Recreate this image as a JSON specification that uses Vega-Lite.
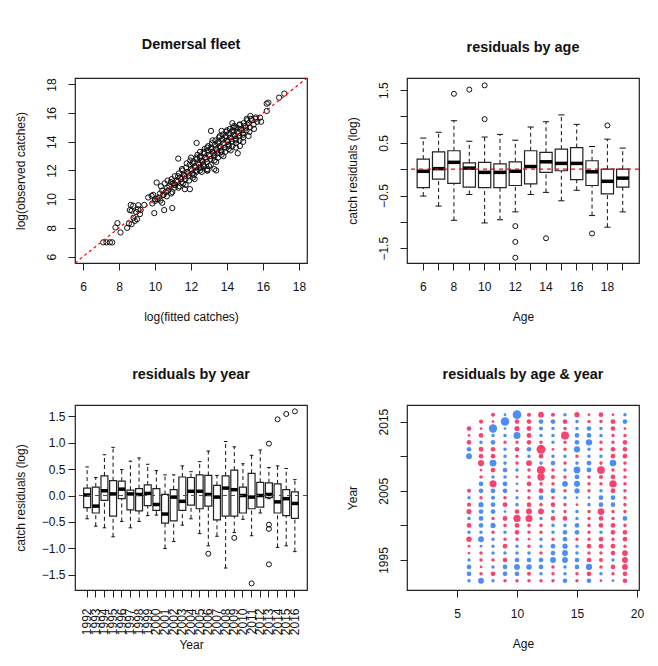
{
"$schema": "https://vega.github.io/schema/vega-lite/v6.json",
"background": "white",
"padding": {"left": 13, "top": 36, "right": 5, "bottom": 5},
"config": {
  "font": "Liberation Sans",
  "view": {"stroke": "#222", "strokeWidth": 1.2},
  "axis": {"domain": false, "grid": false, "ticks": true, "tickColor": "#222", "tickSize": 7, "tickWidth": 1, "labelFont": "Liberation Sans", "labelFontSize": 12, "labelColor": "#111", "titleFont": "Liberation Sans", "titleFontSize": 12, "titleFontWeight": "normal", "titleColor": "#111", "labelOverlap": false, "labelFlush": false},
  "axisLeft": {"minExtent": 40, "maxExtent": 40, "titlePadding": 8},
  "axisBottom": {"minExtent": 36, "maxExtent": 36, "titlePadding": 12, "labelPadding": 11},
  "title": {"font": "Liberation Sans", "fontSize": 14.4, "fontWeight": "bold", "color": "#111", "anchor": "middle", "offset": 23}
},
"columns": 2,
"spacing": {"row": 43, "column": 35},
"datasets": {
  "diag": [{"v": 5.55}, {"v": 18.45}],
  "zero": [{"z": 0}],
  "scatter": [
    {"f":7.12,"o":6.99},{"f":7.3,"o":6.99},{"f":7.49,"o":6.99},{"f":7.62,"o":6.99},{"f":7.8,"o":8.03},{"f":7.91,"o":8.33},{"f":8.08,"o":7.68},{"f":8.45,"o":8.0},{"f":8.55,"o":8.3},{"f":8.6,"o":9.24},{"f":8.65,"o":9.6},{"f":8.7,"o":9.2},{"f":8.79,"o":9.54},{"f":8.7,"o":8.26},{"f":8.88,"o":8.49},{"f":8.8,"o":8.7},{"f":9.0,"o":8.6},{"f":9.07,"o":9.58},{"f":9.16,"o":8.96},{"f":9.05,"o":9.3},{"f":9.2,"o":9.25},{"f":8.95,"o":9.1},{"f":9.4,"o":9.6},{"f":9.62,"o":10.12},{"f":9.81,"o":10.23},{"f":10.0,"o":9.88},{"f":9.96,"o":9.03},{"f":10.51,"o":9.24},{"f":10.96,"o":9.38},{"f":10.09,"o":11.16},{"f":10.0,"o":10.0},{"f":9.9,"o":10.3},{"f":9.85,"o":9.7},{"f":10.3,"o":9.9},{"f":10.4,"o":9.75},{"f":10.45,"o":10.3},{"f":11.29,"o":12.83},{"f":12.31,"o":13.92},{"f":13.11,"o":14.76},{"f":13.7,"o":14.76},{"f":11.66,"o":10.7},{"f":11.94,"o":10.7},{"f":14.72,"o":13.71},{"f":16.21,"o":16.66},{"f":16.3,"o":16.73},{"f":16.21,"o":16.15},{"f":16.9,"o":17.08},{"f":17.19,"o":17.36},{"f":15.84,"o":15.69},{"f":15.6,"o":15.6},{"f":15.9,"o":15.4},{"f":15.5,"o":14.9},{"f":15.3,"o":15.8},{"f":14.3,"o":15.3},{"f":13.4,"o":12.0},{"f":12.9,"o":12.0},{"f":13.3,"o":12.1},
    {"f":11.5,"o":12.1},{"f":11.7,"o":11.0},{"f":12.0,"o":12.9},{"f":12.2,"o":11.4},{"f":12.5,"o":13.3},{"f":12.6,"o":11.9},{"f":12.9,"o":13.6},{"f":13.0,"o":12.3},{"f":13.2,"o":14.1},{"f":13.4,"o":12.6},{"f":13.6,"o":14.4},{"f":13.8,"o":13.0},{"f":14.0,"o":14.8},{"f":14.2,"o":13.4},{"f":14.4,"o":15.1},{"f":14.5,"o":13.6},{"f":14.7,"o":15.2},{"f":14.9,"o":14.0},{"f":15.1,"o":15.6},{"f":15.2,"o":14.4},{"f":13.1,"o":13.5},{"f":13.3,"o":13.1},{"f":13.5,"o":13.9},{"f":13.7,"o":13.3},{"f":13.9,"o":14.3},{"f":14.1,"o":13.7},{"f":14.3,"o":14.7},{"f":14.5,"o":14.1},{"f":14.7,"o":14.9},{"f":14.9,"o":14.5},{"f":12.1,"o":12.5},{"f":12.3,"o":11.9},{"f":12.5,"o":12.9},{"f":12.7,"o":12.3},{"f":11.1,"o":11.6},{"f":11.3,"o":10.8},{"f":10.7,"o":11.3},{"f":10.9,"o":10.4},
    {"f":10.2,"o":10.1},{"f":10.28,"o":10.4},{"f":10.13,"o":10.0},
    {"f":10.4,"o":10.6},{"f":10.48,"o":10.3},{"f":10.33,"o":10.9},
    {"f":10.6,"o":10.5},{"f":10.68,"o":10.8},{"f":10.53,"o":11.1},{"f":10.65,"o":10.2},
    {"f":10.8,"o":10.9},{"f":10.88,"o":11.2},{"f":10.73,"o":10.6},
    {"f":11.0,"o":11.1},{"f":11.08,"o":10.8},{"f":10.93,"o":11.4},{"f":11.05,"o":11.0},{"f":10.96,"o":10.5},
    {"f":11.2,"o":11.3},{"f":11.28,"o":11.6},{"f":11.13,"o":11.0},{"f":11.25,"o":11.2},
    {"f":11.4,"o":11.5},{"f":11.48,"o":11.2},{"f":11.33,"o":11.8},{"f":11.45,"o":11.4},{"f":11.36,"o":10.9},
    {"f":11.6,"o":11.7},{"f":11.68,"o":11.4},{"f":11.53,"o":12.0},{"f":11.65,"o":11.6},{"f":11.56,"o":11.1},
    {"f":11.8,"o":11.9},{"f":11.88,"o":11.6},{"f":11.73,"o":12.2},{"f":11.85,"o":11.8},{"f":11.76,"o":12.5},{"f":11.9,"o":11.3},
    {"f":12.0,"o":12.1},{"f":12.08,"o":11.8},{"f":11.93,"o":12.4},{"f":12.05,"o":12.0},{"f":11.96,"o":12.7},{"f":12.1,"o":11.5},
    {"f":12.2,"o":12.3},{"f":12.28,"o":12.0},{"f":12.13,"o":12.6},{"f":12.25,"o":12.2},{"f":12.16,"o":11.7},{"f":12.3,"o":12.9},
    {"f":12.4,"o":12.5},{"f":12.48,"o":12.2},{"f":12.33,"o":12.8},{"f":12.45,"o":12.4},{"f":12.36,"o":13.1},{"f":12.5,"o":12.0},
    {"f":12.6,"o":12.7},{"f":12.68,"o":12.4},{"f":12.53,"o":13.0},{"f":12.65,"o":12.6},{"f":12.56,"o":12.2},{"f":12.7,"o":13.3},
    {"f":12.8,"o":12.9},{"f":12.88,"o":12.6},{"f":12.73,"o":13.2},{"f":12.85,"o":12.8},{"f":12.76,"o":13.5},{"f":12.9,"o":12.1},
    {"f":13.0,"o":13.1},{"f":13.08,"o":12.8},{"f":12.93,"o":13.4},{"f":13.05,"o":13.0},{"f":12.96,"o":13.7},{"f":13.1,"o":12.4},{"f":12.91,"o":12.0},
    {"f":13.2,"o":13.3},{"f":13.28,"o":13.0},{"f":13.13,"o":13.6},{"f":13.25,"o":13.2},{"f":13.16,"o":13.9},{"f":13.3,"o":12.7},
    {"f":13.4,"o":13.5},{"f":13.48,"o":13.2},{"f":13.33,"o":13.8},{"f":13.45,"o":13.4},{"f":13.36,"o":14.1},{"f":13.5,"o":12.9},
    {"f":13.6,"o":13.7},{"f":13.68,"o":13.4},{"f":13.53,"o":14.0},{"f":13.65,"o":13.6},{"f":13.56,"o":14.3},{"f":13.7,"o":13.1},
    {"f":13.8,"o":13.9},{"f":13.88,"o":13.6},{"f":13.73,"o":14.2},{"f":13.85,"o":13.8},{"f":13.76,"o":14.5},{"f":13.9,"o":13.3},
    {"f":14.0,"o":14.1},{"f":14.08,"o":13.8},{"f":13.93,"o":14.4},{"f":14.05,"o":14.0},{"f":13.96,"o":14.7},{"f":14.1,"o":13.5},
    {"f":14.2,"o":14.3},{"f":14.28,"o":14.0},{"f":14.13,"o":14.6},{"f":14.25,"o":14.2},{"f":14.16,"o":14.9},{"f":14.3,"o":13.7},
    {"f":14.4,"o":14.5},{"f":14.48,"o":14.2},{"f":14.33,"o":14.8},{"f":14.45,"o":14.4},{"f":14.36,"o":15.0},{"f":14.5,"o":13.9},{"f":14.6,"o":13.2},
    {"f":14.6,"o":14.7},{"f":14.68,"o":14.4},{"f":14.53,"o":15.0},{"f":14.65,"o":14.6},{"f":14.7,"o":14.1},
    {"f":14.8,"o":14.9},{"f":14.88,"o":14.6},{"f":14.73,"o":15.2},{"f":14.85,"o":14.8},{"f":14.9,"o":14.3},
    {"f":15.0,"o":15.1},{"f":15.08,"o":14.8},{"f":14.93,"o":15.3},{"f":15.05,"o":15.0},
    {"f":15.2,"o":15.3},{"f":15.28,"o":15.0},{"f":15.13,"o":15.5},{"f":15.25,"o":14.7},
    {"f":15.4,"o":15.5},{"f":15.48,"o":15.2},{"f":15.33,"o":15.6},
    {"f":15.6,"o":15.7},{"f":15.68,"o":15.4}
  ],
  "agebox": [
    {"age":6,"lo":-0.51,"q1":-0.35,"med":-0.04,"q3":0.19,"hi":0.59},
    {"age":7,"lo":-0.70,"q1":-0.19,"med":0.01,"q3":0.33,"hi":0.70},
    {"age":8,"lo":-0.97,"q1":-0.27,"med":0.13,"q3":0.35,"hi":0.92},
    {"age":9,"lo":-0.48,"q1":-0.34,"med":0.02,"q3":0.12,"hi":0.53},
    {"age":10,"lo":-1.02,"q1":-0.35,"med":-0.06,"q3":0.13,"hi":0.61},
    {"age":11,"lo":-0.96,"q1":-0.35,"med":-0.06,"q3":0.10,"hi":0.66},
    {"age":12,"lo":-0.81,"q1":-0.31,"med":-0.04,"q3":0.14,"hi":0.55},
    {"age":13,"lo":-0.48,"q1":-0.28,"med":0.05,"q3":0.35,"hi":0.80},
    {"age":14,"lo":-0.44,"q1":-0.06,"med":0.14,"q3":0.32,"hi":0.90},
    {"age":15,"lo":-0.60,"q1":-0.03,"med":0.11,"q3":0.38,"hi":1.03},
    {"age":16,"lo":-0.40,"q1":-0.20,"med":0.11,"q3":0.41,"hi":0.85},
    {"age":17,"lo":-0.88,"q1":-0.31,"med":-0.05,"q3":0.16,"hi":0.43},
    {"age":18,"lo":-1.10,"q1":-0.47,"med":-0.23,"q3":0.0,"hi":0.57},
    {"age":19,"lo":-0.81,"q1":-0.34,"med":-0.17,"q3":0.0,"hi":0.40}
  ],
  "ageout": [
    {"age":8,"v":1.43},{"age":9,"v":1.51},{"age":10,"v":1.59},{"age":10,"v":0.95},
    {"age":12,"v":-1.08},{"age":12,"v":-1.38},{"age":12,"v":-1.68},{"age":14,"v":-1.31},
    {"age":17,"v":-1.22},{"age":18,"v":0.83}
  ],
  "yearbox": [
    {"year":1992,"lo":-0.44,"q1":-0.23,"med":0.01,"q3":0.14,"hi":0.54},
    {"year":1993,"lo":-0.58,"q1":-0.33,"med":-0.20,"q3":0.16,"hi":0.34},
    {"year":1994,"lo":-0.61,"q1":-0.09,"med":0.09,"q3":0.37,"hi":0.77},
    {"year":1995,"lo":-0.78,"q1":-0.39,"med":0.03,"q3":0.28,"hi":0.91},
    {"year":1996,"lo":-0.49,"q1":-0.06,"med":0.12,"q3":0.27,"hi":0.49},
    {"year":1997,"lo":-0.61,"q1":-0.27,"med":0.03,"q3":0.10,"hi":0.65},
    {"year":1998,"lo":-0.49,"q1":-0.29,"med":0.02,"q3":0.13,"hi":0.71},
    {"year":1999,"lo":-0.38,"q1":-0.19,"med":0.04,"q3":0.20,"hi":0.59},
    {"year":2000,"lo":-0.37,"q1":-0.28,"med":-0.17,"q3":0.13,"hi":0.47},
    {"year":2001,"lo":-1.00,"q1":-0.52,"med":-0.35,"q3":0.02,"hi":0.39},
    {"year":2002,"lo":-0.87,"q1":-0.48,"med":-0.03,"q3":0.11,"hi":0.39},
    {"year":2003,"lo":-0.56,"q1":-0.28,"med":-0.11,"q3":0.35,"hi":0.56},
    {"year":2004,"lo":-0.44,"q1":-0.18,"med":0.08,"q3":0.34,"hi":0.45},
    {"year":2005,"lo":-0.72,"q1":-0.25,"med":0.08,"q3":0.39,"hi":0.64},
    {"year":2006,"lo":-0.95,"q1":-0.20,"med":0.02,"q3":0.38,"hi":0.84},
    {"year":2007,"lo":-0.77,"q1":-0.46,"med":-0.03,"q3":0.19,"hi":0.38},
    {"year":2008,"lo":-1.37,"q1":-0.39,"med":0.14,"q3":0.37,"hi":1.02},
    {"year":2009,"lo":-0.70,"q1":-0.39,"med":0.11,"q3":0.48,"hi":0.92},
    {"year":2010,"lo":-0.45,"q1":-0.33,"med":0.0,"q3":0.16,"hi":0.60},
    {"year":2011,"lo":-0.76,"q1":-0.25,"med":-0.03,"q3":0.42,"hi":0.76},
    {"year":2012,"lo":-0.33,"q1":-0.22,"med":0.0,"q3":0.25,"hi":0.86},
    {"year":2013,"lo":-0.06,"q1":-0.04,"med":0.02,"q3":0.24,"hi":0.53},
    {"year":2014,"lo":-0.98,"q1":-0.33,"med":-0.12,"q3":0.22,"hi":0.56},
    {"year":2015,"lo":-0.95,"q1":-0.38,"med":-0.06,"q3":0.11,"hi":0.51},
    {"year":2016,"lo":-1.06,"q1":-0.43,"med":-0.15,"q3":0.07,"hi":0.30}
  ],
  "yearout": [
    {"year":2006,"v":-1.10},{"year":2009,"v":-0.80},{"year":2011,"v":-1.66},
    {"year":2013,"v":0.98},{"year":2013,"v":-0.55},{"year":2013,"v":-0.63},{"year":2013,"v":-1.30},
    {"year":2014,"v":1.44},{"year":2015,"v":1.54},{"year":2016,"v":1.59}
  ],
  "bubbles": [
    {"a":6,"y":1992,"r":0.12},{"a":6,"y":1993,"r":0.3},{"a":6,"y":1994,"r":0.3},{"a":6,"y":1995,"r":0.12},{"a":6,"y":1996,"r":-0.03},{"a":6,"y":1997,"r":-0.03},{"a":6,"y":1998,"r":-0.51},{"a":6,"y":1999,"r":0.12},{"a":6,"y":2000,"r":-0.3},{"a":6,"y":2001,"r":0.12},{"a":6,"y":2002,"r":-0.42},{"a":6,"y":2003,"r":-0.2},{"a":6,"y":2004,"r":0.12},{"a":6,"y":2005,"r":-0.2},{"a":6,"y":2010,"r":0.59},{"a":6,"y":2011,"r":0.3},{"a":6,"y":2012,"r":-0.3},{"a":6,"y":2013,"r":-0.03},{"a":6,"y":2014,"r":-0.3},
    {"a":7,"y":1992,"r":0.6},{"a":7,"y":1993,"r":-0.12},{"a":7,"y":1994,"r":-0.03},{"a":7,"y":1995,"r":-0.12},{"a":7,"y":1996,"r":-0.12},{"a":7,"y":1997,"r":0.03},{"a":7,"y":1998,"r":0.6},{"a":7,"y":1999,"r":0.12},{"a":7,"y":2000,"r":0.3},{"a":7,"y":2001,"r":0.3},{"a":7,"y":2002,"r":0.3},{"a":7,"y":2003,"r":0.42},{"a":7,"y":2004,"r":-0.12},{"a":7,"y":2005,"r":0.3},{"a":7,"y":2006,"r":0.3},{"a":7,"y":2007,"r":-0.12},{"a":7,"y":2008,"r":-0.03},{"a":7,"y":2009,"r":-0.7},{"a":7,"y":2010,"r":-0.3},{"a":7,"y":2011,"r":-0.35},{"a":7,"y":2012,"r":0.12},{"a":7,"y":2013,"r":-0.3},{"a":7,"y":2014,"r":-0.03},{"a":7,"y":2015,"r":-0.2},
    {"a":8,"y":1992,"r":0.12},{"a":8,"y":1993,"r":-0.3},{"a":8,"y":1994,"r":0.12},{"a":8,"y":1995,"r":-0.12},{"a":8,"y":1996,"r":0.12},{"a":8,"y":1997,"r":0.12},{"a":8,"y":1998,"r":0.12},{"a":8,"y":1999,"r":-0.12},{"a":8,"y":2000,"r":0.42},{"a":8,"y":2001,"r":-0.12},{"a":8,"y":2002,"r":0.3},{"a":8,"y":2003,"r":0.3},{"a":8,"y":2004,"r":0.2},{"a":8,"y":2005,"r":0.3},{"a":8,"y":2006,"r":-0.97},{"a":8,"y":2007,"r":0.12},{"a":8,"y":2008,"r":-0.3},{"a":8,"y":2009,"r":0.92},{"a":8,"y":2010,"r":-0.3},{"a":8,"y":2011,"r":-0.3},{"a":8,"y":2012,"r":0.3},{"a":8,"y":2013,"r":0.12},{"a":8,"y":2014,"r":1.43},{"a":8,"y":2015,"r":-0.03},{"a":8,"y":2016,"r":-0.2},
    {"a":9,"y":1992,"r":-0.12},{"a":9,"y":1993,"r":0.3},{"a":9,"y":1994,"r":0.3},{"a":9,"y":1995,"r":-0.3},{"a":9,"y":1996,"r":0.12},{"a":9,"y":1997,"r":-0.3},{"a":9,"y":1998,"r":-0.12},{"a":9,"y":1999,"r":0.12},{"a":9,"y":2000,"r":-0.12},{"a":9,"y":2001,"r":-0.35},{"a":9,"y":2002,"r":0.03},{"a":9,"y":2003,"r":-0.35},{"a":9,"y":2004,"r":-0.12},{"a":9,"y":2005,"r":0.3},{"a":9,"y":2006,"r":0.35},{"a":9,"y":2007,"r":0.12},{"a":9,"y":2008,"r":0.3},{"a":9,"y":2009,"r":0.12},{"a":9,"y":2010,"r":0.12},{"a":9,"y":2011,"r":0.12},{"a":9,"y":2012,"r":-0.12},{"a":9,"y":2013,"r":0.12},{"a":9,"y":2014,"r":0.03},{"a":9,"y":2015,"r":1.51},{"a":9,"y":2016,"r":0.03},
    {"a":10,"y":1992,"r":-0.12},{"a":10,"y":1993,"r":0.3},{"a":10,"y":1994,"r":0.6},{"a":10,"y":1995,"r":0.3},{"a":10,"y":1996,"r":0.12},{"a":10,"y":1997,"r":0.12},{"a":10,"y":1998,"r":-0.12},{"a":10,"y":1999,"r":-0.3},{"a":10,"y":2000,"r":-0.35},{"a":10,"y":2001,"r":-1.02},{"a":10,"y":2002,"r":-0.3},{"a":10,"y":2003,"r":0.12},{"a":10,"y":2004,"r":0.12},{"a":10,"y":2005,"r":-0.03},{"a":10,"y":2006,"r":0.03},{"a":10,"y":2007,"r":-0.03},{"a":10,"y":2008,"r":0.12},{"a":10,"y":2009,"r":-0.12},{"a":10,"y":2010,"r":-0.12},{"a":10,"y":2011,"r":-0.3},{"a":10,"y":2012,"r":-0.12},{"a":10,"y":2013,"r":0.95},{"a":10,"y":2014,"r":-0.42},{"a":10,"y":2015,"r":-0.3},{"a":10,"y":2016,"r":1.59},
    {"a":11,"y":1992,"r":-0.12},{"a":11,"y":1993,"r":-0.2},{"a":11,"y":1994,"r":0.5},{"a":11,"y":1995,"r":0.3},{"a":11,"y":1996,"r":0.12},{"a":11,"y":1997,"r":-0.12},{"a":11,"y":1998,"r":-0.03},{"a":11,"y":1999,"r":-0.12},{"a":11,"y":2000,"r":-0.12},{"a":11,"y":2001,"r":-0.96},{"a":11,"y":2002,"r":-0.6},{"a":11,"y":2003,"r":-0.3},{"a":11,"y":2004,"r":-0.12},{"a":11,"y":2005,"r":-0.12},{"a":11,"y":2006,"r":-0.3},{"a":11,"y":2007,"r":-0.12},{"a":11,"y":2008,"r":-0.12},{"a":11,"y":2009,"r":-0.6},{"a":11,"y":2010,"r":0.12},{"a":11,"y":2011,"r":0.3},{"a":11,"y":2012,"r":-0.3},{"a":11,"y":2013,"r":-0.35},{"a":11,"y":2014,"r":-0.35},{"a":11,"y":2015,"r":-0.3},{"a":11,"y":2016,"r":-0.2},
    {"a":12,"y":1992,"r":-0.12},{"a":12,"y":1993,"r":0.12},{"a":12,"y":1994,"r":0.3},{"a":12,"y":1995,"r":0.3},{"a":12,"y":1996,"r":-0.12},{"a":12,"y":1997,"r":0.12},{"a":12,"y":1998,"r":0.12},{"a":12,"y":1999,"r":-0.12},{"a":12,"y":2000,"r":-0.12},{"a":12,"y":2001,"r":0.12},{"a":12,"y":2002,"r":-0.6},{"a":12,"y":2003,"r":-0.12},{"a":12,"y":2004,"r":0.3},{"a":12,"y":2005,"r":-0.35},{"a":12,"y":2006,"r":-0.12},{"a":12,"y":2007,"r":-1.08},{"a":12,"y":2008,"r":-1.38},{"a":12,"y":2009,"r":0.12},{"a":12,"y":2010,"r":-0.3},{"a":12,"y":2011,"r":-1.68},{"a":12,"y":2012,"r":-0.12},{"a":12,"y":2013,"r":0.12},{"a":12,"y":2014,"r":0.2},{"a":12,"y":2015,"r":0.3},{"a":12,"y":2016,"r":-0.55},
    {"a":13,"y":1992,"r":-0.12},{"a":13,"y":1993,"r":-0.12},{"a":13,"y":1994,"r":-0.12},{"a":13,"y":1995,"r":0.6},{"a":13,"y":1996,"r":0.3},{"a":13,"y":1997,"r":0.3},{"a":13,"y":1998,"r":-0.12},{"a":13,"y":1999,"r":0.12},{"a":13,"y":2000,"r":0.12},{"a":13,"y":2001,"r":-0.3},{"a":13,"y":2002,"r":0.12},{"a":13,"y":2003,"r":-0.3},{"a":13,"y":2004,"r":-0.12},{"a":13,"y":2005,"r":0.35},{"a":13,"y":2006,"r":-0.12},{"a":13,"y":2007,"r":-0.2},{"a":13,"y":2008,"r":-0.12},{"a":13,"y":2009,"r":0.3},{"a":13,"y":2010,"r":0.12},{"a":13,"y":2011,"r":-0.03},{"a":13,"y":2012,"r":0.12},{"a":13,"y":2013,"r":0.12},{"a":13,"y":2014,"r":0.12},{"a":13,"y":2015,"r":0.3},{"a":13,"y":2016,"r":-0.2},
    {"a":14,"y":1992,"r":0.3},{"a":14,"y":1993,"r":0.12},{"a":14,"y":1994,"r":0.12},{"a":14,"y":1995,"r":0.6},{"a":14,"y":1996,"r":0.6},{"a":14,"y":1997,"r":0.45},{"a":14,"y":1998,"r":0.3},{"a":14,"y":1999,"r":0.3},{"a":14,"y":2000,"r":0.12},{"a":14,"y":2001,"r":-0.3},{"a":14,"y":2002,"r":-0.12},{"a":14,"y":2003,"r":-0.12},{"a":14,"y":2004,"r":0.12},{"a":14,"y":2005,"r":-0.12},{"a":14,"y":2006,"r":0.6},{"a":14,"y":2007,"r":-0.12},{"a":14,"y":2008,"r":0.12},{"a":14,"y":2009,"r":-0.12},{"a":14,"y":2010,"r":0.12},{"a":14,"y":2011,"r":-0.12},{"a":14,"y":2012,"r":-0.12},{"a":14,"y":2013,"r":-1.31},{"a":14,"y":2014,"r":-0.12},{"a":14,"y":2015,"r":-0.3},{"a":14,"y":2016,"r":0.12},
    {"a":15,"y":1992,"r":-0.12},{"a":15,"y":1993,"r":-0.12},{"a":15,"y":1994,"r":0.3},{"a":15,"y":1995,"r":0.3},{"a":15,"y":1996,"r":0.12},{"a":15,"y":1997,"r":0.12},{"a":15,"y":1998,"r":-0.12},{"a":15,"y":1999,"r":0.3},{"a":15,"y":2000,"r":0.3},{"a":15,"y":2001,"r":0.12},{"a":15,"y":2002,"r":0.12},{"a":15,"y":2003,"r":-0.03},{"a":15,"y":2004,"r":0.03},{"a":15,"y":2005,"r":0.45},{"a":15,"y":2006,"r":0.65},{"a":15,"y":2007,"r":0.3},{"a":15,"y":2008,"r":0.9},{"a":15,"y":2009,"r":0.12},{"a":15,"y":2010,"r":-0.12},{"a":15,"y":2011,"r":0.7},{"a":15,"y":2012,"r":0.35},{"a":15,"y":2013,"r":0.3},{"a":15,"y":2014,"r":0.12},{"a":15,"y":2015,"r":0.12},{"a":15,"y":2016,"r":-0.45},
    {"a":16,"y":1992,"r":0.3},{"a":16,"y":1993,"r":-0.3},{"a":16,"y":1994,"r":0.7},{"a":16,"y":1995,"r":-0.3},{"a":16,"y":1996,"r":-0.12},{"a":16,"y":1997,"r":-0.3},{"a":16,"y":1998,"r":-0.12},{"a":16,"y":1999,"r":-0.12},{"a":16,"y":2000,"r":-0.12},{"a":16,"y":2001,"r":-0.12},{"a":16,"y":2002,"r":-0.12},{"a":16,"y":2003,"r":0.12},{"a":16,"y":2004,"r":0.03},{"a":16,"y":2005,"r":-0.12},{"a":16,"y":2006,"r":-0.12},{"a":16,"y":2007,"r":-0.12},{"a":16,"y":2008,"r":0.35},{"a":16,"y":2009,"r":0.35},{"a":16,"y":2010,"r":0.12},{"a":16,"y":2011,"r":0.12},{"a":16,"y":2012,"r":0.75},{"a":16,"y":2013,"r":0.3},{"a":16,"y":2014,"r":0.3},{"a":16,"y":2015,"r":-0.12},{"a":16,"y":2016,"r":-0.03},
    {"a":17,"y":1992,"r":-0.03},{"a":17,"y":1993,"r":0.12},{"a":17,"y":1994,"r":-0.12},{"a":17,"y":1995,"r":-0.2},{"a":17,"y":1996,"r":-0.12},{"a":17,"y":1997,"r":-0.3},{"a":17,"y":1998,"r":-0.3},{"a":17,"y":1999,"r":0.12},{"a":17,"y":2000,"r":-0.3},{"a":17,"y":2001,"r":-0.3},{"a":17,"y":2002,"r":-0.88},{"a":17,"y":2003,"r":0.3},{"a":17,"y":2004,"r":0.3},{"a":17,"y":2005,"r":0.12},{"a":17,"y":2006,"r":-0.12},{"a":17,"y":2007,"r":-0.2},{"a":17,"y":2008,"r":-1.22},{"a":17,"y":2009,"r":-0.12},{"a":17,"y":2010,"r":0.12},{"a":17,"y":2011,"r":-0.12},{"a":17,"y":2012,"r":-0.12},{"a":17,"y":2013,"r":0.12},{"a":17,"y":2014,"r":0.12},{"a":17,"y":2015,"r":-0.12},{"a":17,"y":2016,"r":-0.3},
    {"a":18,"y":1992,"r":0.03},{"a":18,"y":1993,"r":-0.12},{"a":18,"y":1994,"r":-0.3},{"a":18,"y":1995,"r":0.12},{"a":18,"y":1996,"r":-0.3},{"a":18,"y":1997,"r":-0.3},{"a":18,"y":1998,"r":-0.12},{"a":18,"y":1999,"r":-0.3},{"a":18,"y":2000,"r":-0.3},{"a":18,"y":2001,"r":-0.12},{"a":18,"y":2002,"r":-0.12},{"a":18,"y":2003,"r":0.3},{"a":18,"y":2004,"r":0.3},{"a":18,"y":2005,"r":-0.35},{"a":18,"y":2006,"r":-1.1},{"a":18,"y":2007,"r":-0.3},{"a":18,"y":2008,"r":-0.12},{"a":18,"y":2009,"r":0.83},{"a":18,"y":2010,"r":-0.3},{"a":18,"y":2011,"r":-0.3},{"a":18,"y":2012,"r":-0.12},{"a":18,"y":2013,"r":-0.12},{"a":18,"y":2014,"r":-0.3},{"a":18,"y":2015,"r":-0.35},{"a":18,"y":2016,"r":-0.03},
    {"a":19,"y":1992,"r":-0.3},{"a":19,"y":1993,"r":-0.3},{"a":19,"y":1994,"r":-0.6},{"a":19,"y":1995,"r":-0.6},{"a":19,"y":1996,"r":-0.55},{"a":19,"y":1997,"r":-0.12},{"a":19,"y":1998,"r":-0.3},{"a":19,"y":1999,"r":-0.3},{"a":19,"y":2000,"r":-0.12},{"a":19,"y":2001,"r":0.3},{"a":19,"y":2002,"r":-0.12},{"a":19,"y":2003,"r":-0.12},{"a":19,"y":2004,"r":-0.12},{"a":19,"y":2005,"r":-0.12},{"a":19,"y":2006,"r":-0.12},{"a":19,"y":2007,"r":-0.12},{"a":19,"y":2008,"r":-0.12},{"a":19,"y":2009,"r":-0.12},{"a":19,"y":2010,"r":-0.3},{"a":19,"y":2011,"r":-0.3},{"a":19,"y":2012,"r":-0.3},{"a":19,"y":2013,"r":-0.12},{"a":19,"y":2014,"r":-0.03},{"a":19,"y":2015,"r":0.3},{"a":19,"y":2016,"r":0.12}
  ]
},
"concat": [
  {
    "title": "Demersal fleet",
    "width": 232, "height": 185,
    "layer": [
      {"data": {"name": "scatter"},
       "mark": {"type": "point", "shape": "circle", "filled": false, "stroke": "#111", "strokeWidth": 1, "size": 28, "opacity": 1},
       "encoding": {
         "x": {"field": "f", "type": "quantitative", "scale": {"domain": [5.55, 18.45], "nice": false, "zero": false}, "axis": {"title": "log(fitted catches)", "values": [6, 8, 10, 12, 14, 16, 18]}},
         "y": {"field": "o", "type": "quantitative", "scale": {"domain": [5.55, 18.45], "nice": false, "zero": false}, "axis": {"title": "log(observed catches)", "values": [6, 8, 10, 12, 14, 16, 18], "labelAngle": 270, "labelAlign": "center", "labelBaseline": "bottom", "labelPadding": 10}}
       }},
      {"data": {"name": "diag"},
       "mark": {"type": "line", "color": "#ff0000", "strokeDash": [3, 3], "strokeWidth": 1.2},
       "encoding": {
         "x": {"field": "v", "type": "quantitative", "scale": {"domain": [5.55, 18.45], "nice": false, "zero": false}, "axis": {"title": "log(fitted catches)", "values": [6, 8, 10, 12, 14, 16, 18]}},
         "y": {"field": "v", "type": "quantitative", "scale": {"domain": [5.55, 18.45], "nice": false, "zero": false}, "axis": {"title": "log(observed catches)", "values": [6, 8, 10, 12, 14, 16, 18], "labelAngle": 270, "labelAlign": "center", "labelBaseline": "bottom", "labelPadding": 10}}
       }}
    ]
  },
  {
    "title": "residuals by age",
    "width": 232, "height": 185,
    "data": {"name": "agebox"},
    "layer": [
      {"mark": {"type": "rule", "color": "#111", "strokeDash": [4, 3], "strokeWidth": 1},
       "encoding": {
         "x": {"field": "age", "type": "ordinal", "scale": {"paddingInner": 0.2, "paddingOuter": 0.66}, "axis": {"title": "Age", "labelAngle": 0, "labelExpr": "datum.value % 2 == 0 ? datum.label : ''"}},
         "y": {"field": "lo", "type": "quantitative", "scale": {"domain": [-1.78, 1.73], "nice": false, "zero": false}, "axis": {"title": "catch residuals (log)", "values": [-1.5, -1, -0.5, 0, 0.5, 1, 1.5], "format": ".1f", "labelExpr": "abs(datum.value) % 1 == 0.5 ? datum.label : ''", "labelAngle": 270, "labelAlign": "center", "labelBaseline": "bottom", "labelPadding": 10}},
         "y2": {"field": "q1"}
       }},
      {"mark": {"type": "rule", "color": "#111", "strokeDash": [4, 3], "strokeWidth": 1},
       "encoding": {
         "x": {"field": "age", "type": "ordinal", "scale": {"paddingInner": 0.2, "paddingOuter": 0.66}, "axis": {"title": "Age", "labelAngle": 0, "labelExpr": "datum.value % 2 == 0 ? datum.label : ''"}},
         "y": {"field": "q3", "type": "quantitative", "scale": {"domain": [-1.78, 1.73], "nice": false, "zero": false}, "axis": {"title": "catch residuals (log)", "values": [-1.5, -1, -0.5, 0, 0.5, 1, 1.5], "format": ".1f", "labelExpr": "abs(datum.value) % 1 == 0.5 ? datum.label : ''", "labelAngle": 270, "labelAlign": "center", "labelBaseline": "bottom", "labelPadding": 10}},
         "y2": {"field": "hi"}
       }},
      {"mark": {"type": "tick", "color": "#111", "size": 6.2, "thickness": 1, "opacity": 1},
       "encoding": {
         "x": {"field": "age", "type": "ordinal", "scale": {"paddingInner": 0.2, "paddingOuter": 0.66}, "axis": {"title": "Age", "labelAngle": 0, "labelExpr": "datum.value % 2 == 0 ? datum.label : ''"}},
         "y": {"field": "lo", "type": "quantitative", "scale": {"domain": [-1.78, 1.73], "nice": false, "zero": false}, "axis": {"title": "catch residuals (log)", "values": [-1.5, -1, -0.5, 0, 0.5, 1, 1.5], "format": ".1f", "labelExpr": "abs(datum.value) % 1 == 0.5 ? datum.label : ''", "labelAngle": 270, "labelAlign": "center", "labelBaseline": "bottom", "labelPadding": 10}}
       }},
      {"mark": {"type": "tick", "color": "#111", "size": 6.2, "thickness": 1, "opacity": 1},
       "encoding": {
         "x": {"field": "age", "type": "ordinal", "scale": {"paddingInner": 0.2, "paddingOuter": 0.66}, "axis": {"title": "Age", "labelAngle": 0, "labelExpr": "datum.value % 2 == 0 ? datum.label : ''"}},
         "y": {"field": "hi", "type": "quantitative", "scale": {"domain": [-1.78, 1.73], "nice": false, "zero": false}, "axis": {"title": "catch residuals (log)", "values": [-1.5, -1, -0.5, 0, 0.5, 1, 1.5], "format": ".1f", "labelExpr": "abs(datum.value) % 1 == 0.5 ? datum.label : ''", "labelAngle": 270, "labelAlign": "center", "labelBaseline": "bottom", "labelPadding": 10}}
       }},
      {"mark": {"type": "bar", "fill": "white", "stroke": "#222", "strokeWidth": 1.2},
       "encoding": {
         "x": {"field": "age", "type": "ordinal", "scale": {"paddingInner": 0.2, "paddingOuter": 0.66}, "axis": {"title": "Age", "labelAngle": 0, "labelExpr": "datum.value % 2 == 0 ? datum.label : ''"}},
         "y": {"field": "q1", "type": "quantitative", "scale": {"domain": [-1.78, 1.73], "nice": false, "zero": false}, "axis": {"title": "catch residuals (log)", "values": [-1.5, -1, -0.5, 0, 0.5, 1, 1.5], "format": ".1f", "labelExpr": "abs(datum.value) % 1 == 0.5 ? datum.label : ''", "labelAngle": 270, "labelAlign": "center", "labelBaseline": "bottom", "labelPadding": 10}},
         "y2": {"field": "q3"}
       }},
      {"mark": {"type": "tick", "color": "#000", "size": 12.3, "thickness": 3.5, "opacity": 1},
       "encoding": {
         "x": {"field": "age", "type": "ordinal", "scale": {"paddingInner": 0.2, "paddingOuter": 0.66}, "axis": {"title": "Age", "labelAngle": 0, "labelExpr": "datum.value % 2 == 0 ? datum.label : ''"}},
         "y": {"field": "med", "type": "quantitative", "scale": {"domain": [-1.78, 1.73], "nice": false, "zero": false}, "axis": {"title": "catch residuals (log)", "values": [-1.5, -1, -0.5, 0, 0.5, 1, 1.5], "format": ".1f", "labelExpr": "abs(datum.value) % 1 == 0.5 ? datum.label : ''", "labelAngle": 270, "labelAlign": "center", "labelBaseline": "bottom", "labelPadding": 10}}
       }},
      {"data": {"name": "ageout"},
       "mark": {"type": "point", "shape": "circle", "filled": false, "stroke": "#111", "strokeWidth": 1, "size": 25, "opacity": 1},
       "encoding": {
         "x": {"field": "age", "type": "ordinal", "scale": {"paddingInner": 0.2, "paddingOuter": 0.66}, "axis": {"title": "Age", "labelAngle": 0, "labelExpr": "datum.value % 2 == 0 ? datum.label : ''"}},
         "y": {"field": "v", "type": "quantitative", "scale": {"domain": [-1.78, 1.73], "nice": false, "zero": false}, "axis": {"title": "catch residuals (log)", "values": [-1.5, -1, -0.5, 0, 0.5, 1, 1.5], "format": ".1f", "labelExpr": "abs(datum.value) % 1 == 0.5 ? datum.label : ''", "labelAngle": 270, "labelAlign": "center", "labelBaseline": "bottom", "labelPadding": 10}}
       }},
      {"data": {"name": "zero"},
       "mark": {"type": "rule", "color": "#ff0000", "strokeDash": [4, 4], "strokeWidth": 1.2},
       "encoding": {
         "y": {"field": "z", "type": "quantitative", "scale": {"domain": [-1.78, 1.73], "nice": false, "zero": false}, "axis": {"title": "catch residuals (log)", "values": [-1.5, -1, -0.5, 0, 0.5, 1, 1.5], "format": ".1f", "labelExpr": "abs(datum.value) % 1 == 0.5 ? datum.label : ''", "labelAngle": 270, "labelAlign": "center", "labelBaseline": "bottom", "labelPadding": 10}}
       }}
    ]
  },
  {
    "title": "residuals by year",
    "width": 232, "height": 185,
    "data": {"name": "yearbox"},
    "layer": [
      {"mark": {"type": "rule", "color": "#111", "strokeDash": [4, 3], "strokeWidth": 1},
       "encoding": {
         "x": {"field": "year", "type": "ordinal", "scale": {"paddingInner": 0.2, "paddingOuter": 1.1}, "axis": {"title": "Year", "labelAngle": 270, "labelAlign": "right", "labelBaseline": "middle", "labelPadding": 11, "minExtent": 38, "maxExtent": 38, "titlePadding": 11}},
         "y": {"field": "lo", "type": "quantitative", "scale": {"domain": [-1.785, 1.71], "nice": false, "zero": false}, "axis": {"title": "catch residuals (log)", "values": [-1.5, -1, -0.5, 0, 0.5, 1, 1.5], "format": ".1f", "labelAngle": 0, "labelAlign": "right", "labelBaseline": "middle", "labelPadding": 3}},
         "y2": {"field": "q1"}
       }},
      {"mark": {"type": "rule", "color": "#111", "strokeDash": [4, 3], "strokeWidth": 1},
       "encoding": {
         "x": {"field": "year", "type": "ordinal", "scale": {"paddingInner": 0.2, "paddingOuter": 1.1}, "axis": {"title": "Year", "labelAngle": 270, "labelAlign": "right", "labelBaseline": "middle", "labelPadding": 11, "minExtent": 38, "maxExtent": 38, "titlePadding": 11}},
         "y": {"field": "q3", "type": "quantitative", "scale": {"domain": [-1.785, 1.71], "nice": false, "zero": false}, "axis": {"title": "catch residuals (log)", "values": [-1.5, -1, -0.5, 0, 0.5, 1, 1.5], "format": ".1f", "labelAngle": 0, "labelAlign": "right", "labelBaseline": "middle", "labelPadding": 3}},
         "y2": {"field": "hi"}
       }},
      {"mark": {"type": "tick", "color": "#111", "size": 3.5, "thickness": 1, "opacity": 1},
       "encoding": {
         "x": {"field": "year", "type": "ordinal", "scale": {"paddingInner": 0.2, "paddingOuter": 1.1}, "axis": {"title": "Year", "labelAngle": 270, "labelAlign": "right", "labelBaseline": "middle", "labelPadding": 11, "minExtent": 38, "maxExtent": 38, "titlePadding": 11}},
         "y": {"field": "lo", "type": "quantitative", "scale": {"domain": [-1.785, 1.71], "nice": false, "zero": false}, "axis": {"title": "catch residuals (log)", "values": [-1.5, -1, -0.5, 0, 0.5, 1, 1.5], "format": ".1f", "labelAngle": 0, "labelAlign": "right", "labelBaseline": "middle", "labelPadding": 3}}
       }},
      {"mark": {"type": "tick", "color": "#111", "size": 3.5, "thickness": 1, "opacity": 1},
       "encoding": {
         "x": {"field": "year", "type": "ordinal", "scale": {"paddingInner": 0.2, "paddingOuter": 1.1}, "axis": {"title": "Year", "labelAngle": 270, "labelAlign": "right", "labelBaseline": "middle", "labelPadding": 11, "minExtent": 38, "maxExtent": 38, "titlePadding": 11}},
         "y": {"field": "hi", "type": "quantitative", "scale": {"domain": [-1.785, 1.71], "nice": false, "zero": false}, "axis": {"title": "catch residuals (log)", "values": [-1.5, -1, -0.5, 0, 0.5, 1, 1.5], "format": ".1f", "labelAngle": 0, "labelAlign": "right", "labelBaseline": "middle", "labelPadding": 3}}
       }},
      {"mark": {"type": "bar", "fill": "white", "stroke": "#222", "strokeWidth": 1.2},
       "encoding": {
         "x": {"field": "year", "type": "ordinal", "scale": {"paddingInner": 0.2, "paddingOuter": 1.1}, "axis": {"title": "Year", "labelAngle": 270, "labelAlign": "right", "labelBaseline": "middle", "labelPadding": 11, "minExtent": 38, "maxExtent": 38, "titlePadding": 11}},
         "y": {"field": "q1", "type": "quantitative", "scale": {"domain": [-1.785, 1.71], "nice": false, "zero": false}, "axis": {"title": "catch residuals (log)", "values": [-1.5, -1, -0.5, 0, 0.5, 1, 1.5], "format": ".1f", "labelAngle": 0, "labelAlign": "right", "labelBaseline": "middle", "labelPadding": 3}},
         "y2": {"field": "q3"}
       }},
      {"mark": {"type": "tick", "color": "#000", "size": 6.9, "thickness": 3.5, "opacity": 1},
       "encoding": {
         "x": {"field": "year", "type": "ordinal", "scale": {"paddingInner": 0.2, "paddingOuter": 1.1}, "axis": {"title": "Year", "labelAngle": 270, "labelAlign": "right", "labelBaseline": "middle", "labelPadding": 11, "minExtent": 38, "maxExtent": 38, "titlePadding": 11}},
         "y": {"field": "med", "type": "quantitative", "scale": {"domain": [-1.785, 1.71], "nice": false, "zero": false}, "axis": {"title": "catch residuals (log)", "values": [-1.5, -1, -0.5, 0, 0.5, 1, 1.5], "format": ".1f", "labelAngle": 0, "labelAlign": "right", "labelBaseline": "middle", "labelPadding": 3}}
       }},
      {"data": {"name": "yearout"},
       "mark": {"type": "point", "shape": "circle", "filled": false, "stroke": "#111", "strokeWidth": 1, "size": 25, "opacity": 1},
       "encoding": {
         "x": {"field": "year", "type": "ordinal", "scale": {"paddingInner": 0.2, "paddingOuter": 1.1}, "axis": {"title": "Year", "labelAngle": 270, "labelAlign": "right", "labelBaseline": "middle", "labelPadding": 11, "minExtent": 38, "maxExtent": 38, "titlePadding": 11}},
         "y": {"field": "v", "type": "quantitative", "scale": {"domain": [-1.785, 1.71], "nice": false, "zero": false}, "axis": {"title": "catch residuals (log)", "values": [-1.5, -1, -0.5, 0, 0.5, 1, 1.5], "format": ".1f", "labelAngle": 0, "labelAlign": "right", "labelBaseline": "middle", "labelPadding": 3}}
       }},
      {"data": {"name": "zero"},
       "mark": {"type": "rule", "color": "#ff0000", "strokeDash": [4, 4], "strokeWidth": 1.2},
       "encoding": {
         "y": {"field": "z", "type": "quantitative", "scale": {"domain": [-1.785, 1.71], "nice": false, "zero": false}, "axis": {"title": "catch residuals (log)", "values": [-1.5, -1, -0.5, 0, 0.5, 1, 1.5], "format": ".1f", "labelAngle": 0, "labelAlign": "right", "labelBaseline": "middle", "labelPadding": 3}}
       }}
    ]
  },
  {
    "title": "residuals by age & year",
    "width": 232, "height": 185,
    "data": {"name": "bubbles"},
    "mark": {"type": "circle", "opacity": 1},
    "encoding": {
      "x": {"field": "a", "type": "quantitative", "scale": {"domain": [0.83, 20.17], "nice": false, "zero": false}, "axis": {"title": "Age", "values": [5, 10, 15, 20]}},
      "y": {"field": "y", "type": "quantitative", "scale": {"domain": [1990.66, 2017.4], "nice": false, "zero": false}, "axis": {"title": "Year", "values": [1995, 2000, 2005, 2010, 2015], "format": "d", "labelExpr": "datum.value % 10 == 5 ? datum.label : ''", "labelAngle": 270, "labelAlign": "center", "labelBaseline": "bottom", "labelPadding": 10}},
      "size": {"field": "r", "type": "quantitative", "scale": {"domain": [-1.7, -0.3, 0, 0.3, 1.7], "range": [80, 22, 6, 22, 80]}, "legend": null},
      "color": {"field": "r", "type": "quantitative", "scale": {"type": "threshold", "domain": [0], "range": ["#F9436F", "#4D8DF7"]}, "legend": null}
    }
  }
]
}
